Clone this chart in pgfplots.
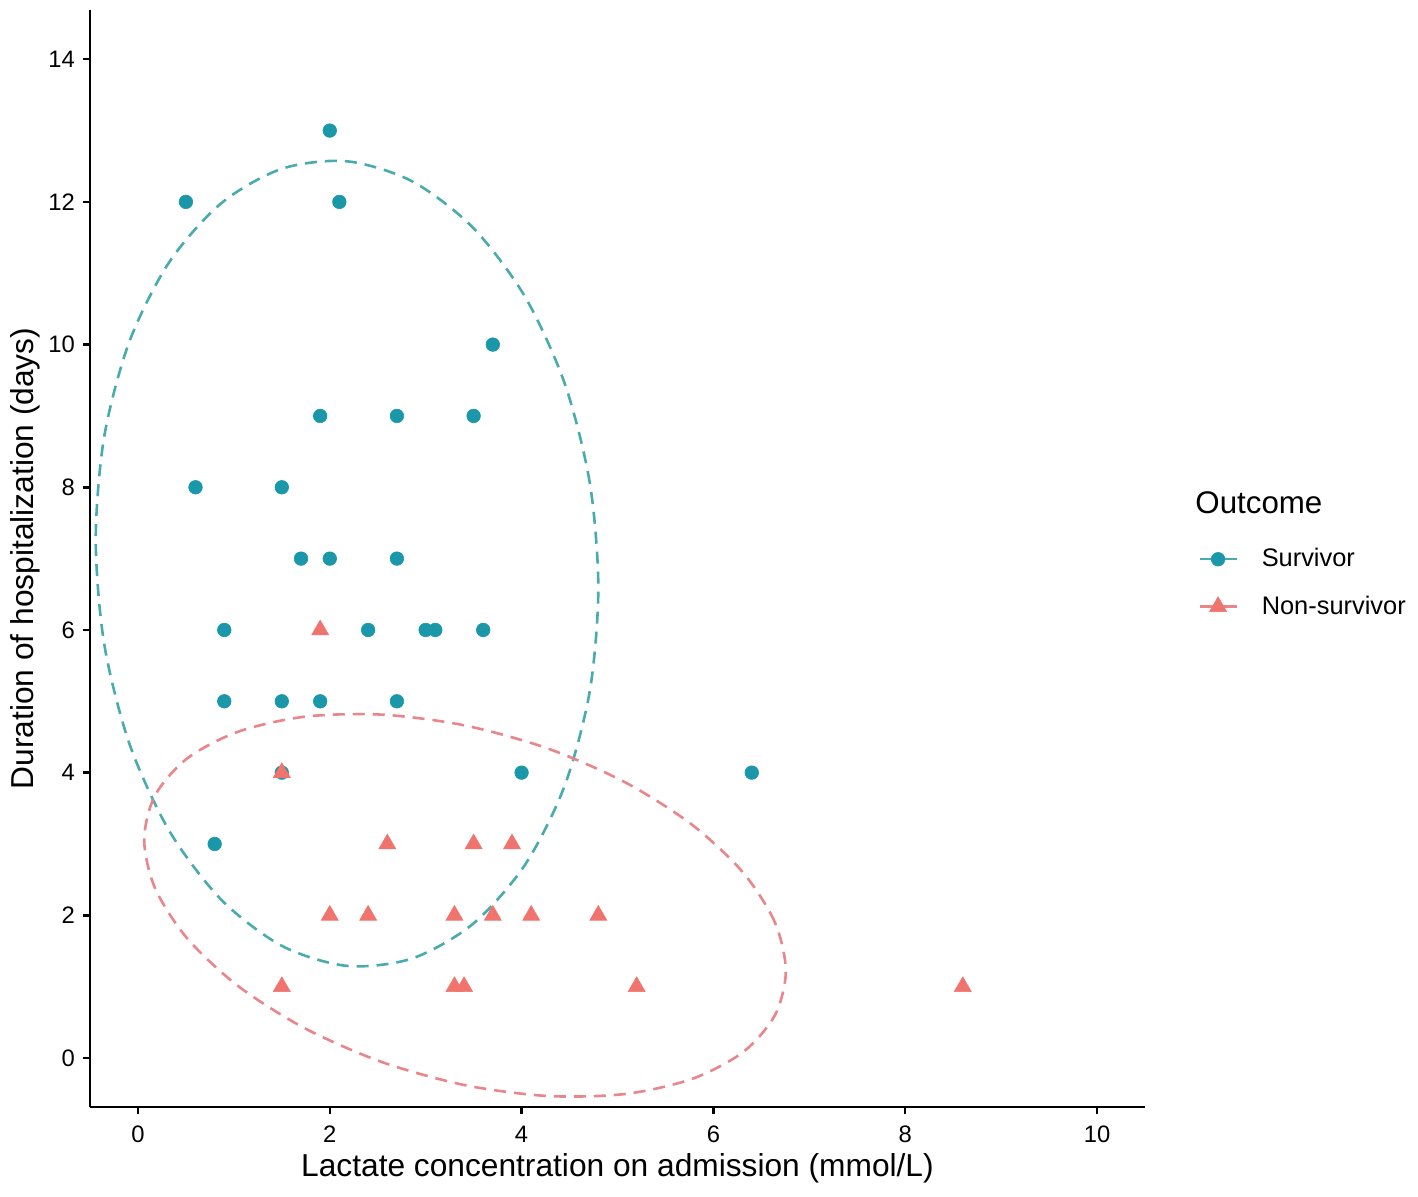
\documentclass[border=0pt]{standalone}
\usepackage{pgfplots}
\pgfplotsset{compat=1.18}
\usepackage{fontspec}
\setmainfont{Liberation Sans}
\definecolor{surv}{HTML}{1A97A8}
\definecolor{survline}{HTML}{4AABAE}
\definecolor{nons}{HTML}{F0736E}
\definecolor{nonsline}{HTML}{E8868A}
\begin{document}
\begin{tikzpicture}
\begin{axis}[
  scale only axis,
  width=527.5pt, height=548.5pt,
  xmin=-0.5, xmax=10.5, ymin=-0.687, ymax=14.69,
  axis lines*=left,
  axis line style={line width=1.25pt, black},
  tick align=outside,
  major tick length=3.5pt,
  tick style={line width=1.25pt, black},
  xtick={0,2,...,10}, ytick={0,2,...,14},
  minor tick num=0,
  /pgf/number format/assume math mode=true,
  ticklabel style={font=\fontsize{11.9}{13}\selectfont, text=black},
  xticklabel style={yshift=-2.5pt},
  yticklabel style={xshift=-0.5pt},
  xlabel={Lactate concentration on admission (mmol/L)},
  ylabel={Duration of hospitalization (days)},
  label style={font=\fontsize{15.85}{18}\selectfont},
  xlabel style={at={(axis description cs:0.5,-0.0638)}, anchor=base},
  ylabel style={at={(axis description cs:-0.0531,0.5)}, anchor=base},
  legend style={draw=none, fill=none, at={(axis description cs:1.0502,0.4777)}, anchor=west,
    inner sep=0pt, row sep=9pt, column sep=10pt, font=\fontsize{12.7}{15}\selectfont},
  legend cell align=left,
  legend image code/.code={
    \draw[#1, mark=none] (0pt,0pt) -- (18.5pt,0pt);
    \draw[#1, only marks] plot coordinates {(9.25pt,0pt)};
  },
]
\addlegendimage{survline, line width=1.2pt, mark=*, mark options={fill=surv, draw=surv, line width=0.3pt, mark size=3.4pt}}
\addlegendentry{Survivor}
\addlegendimage{nonsline, line width=1.2pt, mark=triangle*, mark options={fill=nons, draw=nons, line width=0.3pt, mark size=4.9pt}}
\addlegendentry{Non-survivor}

\addplot[only marks, mark=*, mark size=3.4pt, mark options={fill=surv, draw=surv, line width=0.3pt}, forget plot] coordinates {
(0.5,12) (2.0,13) (2.1,12) (3.7,10) (1.9,9) (2.7,9) (3.5,9) (0.6,8) (1.5,8)
(1.7,7) (2.0,7) (2.7,7) (0.9,6) (2.4,6) (3.0,6) (3.1,6) (3.6,6)
(0.9,5) (1.5,5) (1.9,5) (2.7,5) (1.5,4) (4.0,4) (6.4,4) (0.8,3)
};
\addplot[only marks, mark=triangle*, mark size=4.9pt, mark options={fill=nons, draw=nons, line width=0.3pt}, forget plot] coordinates {
(1.9,6) (1.5,4) (2.6,3) (3.5,3) (3.9,3) (2.0,2) (2.4,2) (3.3,2) (3.7,2) (4.1,2) (4.8,2)
(1.5,1) (3.3,1) (3.4,1) (5.2,1) (8.6,1)
};
\addplot[survline, line width=1.3pt, dash pattern=on 6pt off 4pt, smooth cycle, forget plot] coordinates {
(4.800,6.591) (4.711,8.062) (4.449,9.456) (4.033,10.677) (3.490,11.643) (2.858,12.289) (2.180,12.569) (1.502,12.465) (0.870,11.983) (0.327,11.157) (-0.089,10.044) (-0.351,8.716) (-0.440,7.269) (-0.351,5.798) (-0.089,4.404) (0.327,3.183) (0.870,2.217) (1.502,1.571) (2.180,1.291) (2.858,1.395) (3.490,1.877) (4.033,2.703) (4.449,3.816) (4.711,5.144)
};
\addplot[nonsline, line width=1.3pt, dash pattern=on 6pt off 4pt, smooth cycle, forget plot] coordinates {
(6.755,1.219) (6.641,1.902) (6.307,2.603) (5.775,3.272) (5.083,3.862) (4.276,4.337) (3.410,4.661) (2.544,4.813) (1.738,4.784) (1.045,4.574) (0.513,4.199) (0.179,3.682) (0.065,3.061) (0.179,2.378) (0.513,1.677) (1.045,1.008) (1.738,0.418) (2.544,-0.057) (3.410,-0.381) (4.276,-0.533) (5.083,-0.504) (5.775,-0.294) (6.307,0.081) (6.641,0.598)
};
\coordinate (SW) at (rel axis cs:0,0);
\coordinate (NE) at (rel axis cs:1,1);
\coordinate (T) at (axis description cs:1.0474,0.5406);
\end{axis}
\node[anchor=base west, inner sep=0pt, font=\fontsize{15.65}{18}\selectfont] at (T) {Outcome};
\pgfresetboundingbox
\useasboundingbox ([shift={(-45pt,-44.5pt)}]SW) rectangle ([shift={(136.5pt,5pt)}]NE);
\end{tikzpicture}
\end{document}
